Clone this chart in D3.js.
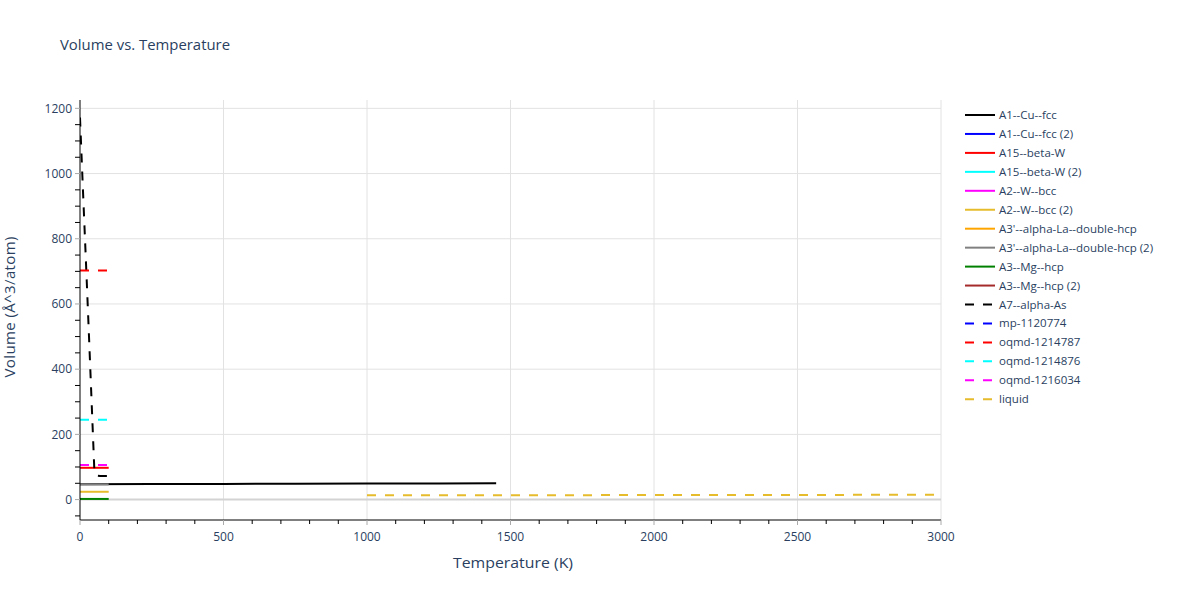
<!DOCTYPE html>
<html>
<head>
<meta charset="utf-8">
<script src="https://cdn.jsdelivr.net/npm/d3@7"></script>
<style>
  body { margin: 0; background: #fff; }
  text { font-family: "Open Sans", verdana, arial, sans-serif; }
</style>
</head>
<body>
<div id="chart"></div>
<script>
// series data (temperature K, volume Å^3/atom)
const tCu = [0, 250, 500, 750, 1000, 1250, 1450];
const vCu = [47.4, 47.8, 48.2, 48.7, 49.2, 49.7, 50.2];
const tLow = [0, 25, 50, 75, 100];
const vA15 = [97.5, 97.5, 97.5, 97.5, 97.5];
const vW2 = [24, 24, 24, 24, 24];
const vLa2 = [46.6, 46.6, 46.6, 46.6, 46.6];
const vMg = [2, 2, 2, 2, 2];
const tAs = [0, 10, 20, 30, 40, 50, 60, 70, 80, 90, 100];
const vAs = [1172, 955, 745, 530, 310, 90, 73, 72, 72, 72, 72];
const vOq787 = [703, 703, 703, 703, 703];
const vOq876 = [245, 245, 245, 245, 245];
const vOq034 = [106, 106, 106, 106, 106];
const tLiq = [1000, 1500, 2000, 2500, 3000];
const vLiq = [13.0, 13.4, 13.9, 14.3, 14.8];

const names = ["A1--Cu--fcc", "A1--Cu--fcc (2)", "A15--beta-W", "A15--beta-W (2)",
  "A2--W--bcc", "A2--W--bcc (2)", "A3'--alpha-La--double-hcp", "A3'--alpha-La--double-hcp (2)",
  "A3--Mg--hcp", "A3--Mg--hcp (2)", "A7--alpha-As", "mp-1120774", "oqmd-1214787",
  "oqmd-1214876", "oqmd-1216034", "liquid"];
const gold = "#e6bc2c";
const colors = ["black", "blue", "red", "cyan", "magenta", gold, "orange", "gray",
  "green", "brown", "black", "blue", "red", "cyan", "magenta", gold];
const xs = [tCu, [], tLow, [], [], tLow, [], tLow, tLow, [], tAs, [], tLow, tLow, tLow, tLiq];
const ys = [vCu, [], vA15, [], [], vW2, [], vLa2, vMg, [], vAs, [], vOq787, vOq876, vOq034, vLiq];

const xTicks = [0, 500, 1000, 1500, 2000, 2500, 3000];
const yTicks = [0, 200, 400, 600, 800, 1000, 1200];

const W = 1200, H = 600;
const L = 80, R = 941, T = 100, B = 520;
const txt = "#2a3f5f";

const svg = d3.select("#chart").append("svg").attr("width", W).attr("height", H);
const x = d3.scaleLinear().domain([0, 3000]).range([L, R]);
const y = d3.scaleLinear().domain([-62.6, 1225.6]).range([B, T]);

// grid
svg.append("g").selectAll("line").data(xTicks.filter(d => d > 0)).join("line")
  .attr("x1", d => x(d)).attr("x2", d => x(d)).attr("y1", T).attr("y2", B)
  .attr("stroke", "#e2e2e2").attr("stroke-width", 1);
svg.append("g").selectAll("line").data(yTicks.filter(d => d > 0)).join("line")
  .attr("x1", L).attr("x2", R).attr("y1", d => y(d)).attr("y2", d => y(d))
  .attr("stroke", "#e2e2e2").attr("stroke-width", 1);
svg.append("line").attr("x1", L).attr("x2", R).attr("y1", y(0)).attr("y2", y(0))
  .attr("stroke", "#d3d3d3").attr("stroke-width", 2);

// traces
svg.append("clipPath").attr("id", "clip").append("rect")
  .attr("x", L).attr("y", T).attr("width", R - L).attr("height", B - T);
const line = d3.line().x(d => x(d[0])).y(d => y(d[1]));
const plot = svg.append("g").attr("clip-path", "url(#clip)");
names.forEach((n, i) => {
  if (!xs[i].length) return;
  plot.append("path")
    .attr("d", line(d3.zip(xs[i], ys[i])))
    .attr("fill", "none").attr("stroke", colors[i]).attr("stroke-width", 2)
    .attr("stroke-dasharray", i >= 10 ? "9,9" : null);
});

// axes lines
svg.append("line").attr("x1", L).attr("x2", L).attr("y1", T).attr("y2", B).attr("stroke", "black");
svg.append("line").attr("x1", L).attr("x2", R).attr("y1", B).attr("y2", B).attr("stroke", "black");

// minor ticks
const yMinor = d3.range(-50, 1201, 50).filter(d => d % 200 !== 0);
svg.append("g").selectAll("line").data(yMinor).join("line")
  .attr("x1", L - 5).attr("x2", L).attr("y1", d => y(d)).attr("y2", d => y(d)).attr("stroke", "black");
const xMinor = d3.range(100, 3000, 100).filter(d => d % 500 !== 0);
svg.append("g").selectAll("line").data(xMinor).join("line")
  .attr("x1", d => x(d)).attr("x2", d => x(d)).attr("y1", B).attr("y2", B + 4).attr("stroke", "black");

// major ticks
svg.append("g").selectAll("line").data(yTicks).join("line")
  .attr("x1", L - 5).attr("x2", L).attr("y1", d => y(d)).attr("y2", d => y(d)).attr("stroke", "#aaa");
svg.append("g").selectAll("line").data(xTicks).join("line")
  .attr("x1", d => x(d)).attr("x2", d => x(d)).attr("y1", B).attr("y2", B + 5).attr("stroke", "#aaa");

// tick labels
svg.append("g").selectAll("text").data(yTicks).join("text")
  .attr("x", L - 8).attr("y", d => y(d)).attr("dy", "0.35em")
  .attr("text-anchor", "end").attr("font-size", 12).attr("fill", txt).text(d => d);
svg.append("g").selectAll("text").data(xTicks).join("text")
  .attr("x", d => x(d)).attr("y", 541)
  .attr("text-anchor", "middle").attr("font-size", 12).attr("fill", txt).text(d => d);

// titles
svg.append("text").attr("x", 60).attr("y", 50).attr("font-size", 15).attr("fill", txt)
  .attr("textLength", 170).attr("lengthAdjust", "spacingAndGlyphs")
  .text("Volume vs. Temperature");
svg.append("text").attr("x", 513).attr("y", 568).attr("text-anchor", "middle")
  .attr("font-size", 15).attr("fill", txt)
  .attr("textLength", 120).attr("lengthAdjust", "spacingAndGlyphs")
  .text("Temperature (K)");
svg.append("text").attr("transform", "translate(15,307) rotate(-90)")
  .attr("text-anchor", "middle").attr("font-size", 15).attr("fill", txt)
  .attr("textLength", 141).attr("lengthAdjust", "spacing")
  .text("Volume (Å^3/atom)");

// legend
const leg = svg.append("g").selectAll("g").data(names).join("g")
  .attr("transform", (d, i) => `translate(965,${115 + i * 18.95})`);
leg.append("line").attr("x1", 0).attr("x2", 30).attr("y1", 0).attr("y2", 0)
  .attr("stroke", (d, i) => colors[i]).attr("stroke-width", 2)
  .attr("stroke-dasharray", (d, i) => i >= 10 ? "9,9" : null);
leg.append("text").attr("x", 34).attr("dy", "0.35em").attr("font-size", 11.5)
  .attr("fill", txt).text(d => d);
</script>
</body>
</html>
